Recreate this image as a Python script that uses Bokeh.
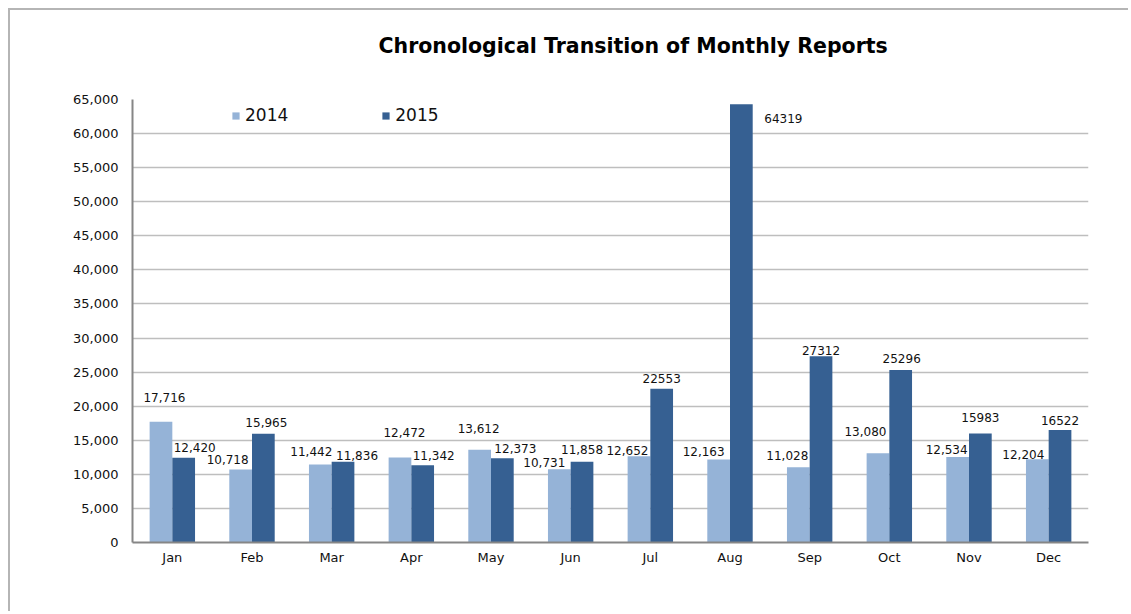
from bokeh.plotting import figure
from bokeh.models import (ColumnDataSource, FactorRange, Range1d, FixedTicker,
                          NumeralTickFormatter, Legend, LegendItem, Title)
from bokeh.transform import dodge
from bokeh.core.properties import value
from bokeh.embed import file_html
from bokeh.resources import INLINE

# ---- data ----
months = ["Jan", "Feb", "Mar", "Apr", "May", "Jun",
          "Jul", "Aug", "Sep", "Oct", "Nov", "Dec"]
v2014 = [17716, 10718, 11442, 12472, 13612, 10731,
         12652, 12163, 11028, 13080, 12534, 12204]
v2015 = [12420, 15965, 11836, 11342, 12373, 11858,
         22553, 64319, 27312, 25296, 15983, 16522]
lab2014 = ["17,716", "10,718", "11,442", "12,472", "13,612", "10,731",
           "12,652", "12,163", "11,028", "13,080", "12,534", "12,204"]
lab2015 = ["12,420", "15,965", "11,836", "11,342", "12,373", "11,858",
           "22553", "64319", "27312", "25296", "15983", "16522"]
y_ticks = list(range(0, 65001, 5000))
title_text = "Chronological Transition of Monthly Reports"

# label placement offsets (screen pixels, styling only)
dx2014 = [3.5, -13, -9, 4.5, -1, -15, -11.5, -15, -11, -12.5, -11, -14]
dy2014 = [-24, -10, -13, -25, -21, -7, -6, -8, -12, -22, -8, -5]
dx2015 = [11, 3, 14, 11, 13, 0, 0, 42, 0, 1, 0, 0]
dy2015 = [-10, -11, -6, -10, -10, -12, -10, 14, -6, -12, -16, -9]

src = ColumnDataSource(dict(month=months, v2014=v2014, v2015=v2015,
                            lab2014=lab2014, lab2015=lab2015,
                            dx2014=dx2014, dy2014=dy2014,
                            dx2015=dx2015, dy2015=dy2015))

LIGHT = "#95B3D7"
DARK = "#366092"
FONT = "DejaVu Sans"

p = figure(x_range=FactorRange(*months), y_range=Range1d(0, 65000),
           width=1120, height=603, output_backend="svg", toolbar_location=None,
           min_border_left=122, min_border_right=42, min_border_top=89,
           min_border_bottom=71, title=None)
p.styles = {"margin-left": "8px", "margin-top": "8px",
            "border-left": "2px solid #b5b5b5", "border-top": "2px solid #b5b5b5"}

bw = 0.285
r1 = p.vbar(x=dodge("month", -bw / 2, range=p.x_range), top="v2014", width=bw,
            source=src, fill_color=LIGHT, line_color=None)
r2 = p.vbar(x=dodge("month", bw / 2, range=p.x_range), top="v2015", width=bw,
            source=src, fill_color=DARK, line_color=None)

p.text(x=dodge("month", -bw / 2, range=p.x_range), y="v2014", text="lab2014",
       x_offset="dx2014", y_offset="dy2014", source=src,
       text_align="center", text_baseline="middle",
       text_font=value(FONT), text_font_size="12px", text_color="#111111")
p.text(x=dodge("month", bw / 2, range=p.x_range), y="v2015", text="lab2015",
       x_offset="dx2015", y_offset="dy2015", source=src,
       text_align="center", text_baseline="middle",
       text_font=value(FONT), text_font_size="12px", text_color="#111111")

# title: a blank spacer panel next to the frame, then the real title above it
p.add_layout(Title(text=" ", text_font_size="1px", standoff=17), "above")
p.add_layout(Title(text=title_text, text_font="DejaVu Sans", text_font_style="bold",
                   text_font_size="20.5px", align="left", offset=246,
                   standoff=43, text_color="#000000"), "above")

# axes
p.yaxis.ticker = FixedTicker(ticks=y_ticks)
p.yaxis.formatter = NumeralTickFormatter(format="0,0")
for ax in (p.xaxis[0], p.yaxis[0]):
    ax.axis_line_color = "#868686"
    ax.axis_line_width = 2
    ax.major_tick_line_color = None
    ax.minor_tick_line_color = None
    ax.major_tick_out = 0
    ax.major_tick_in = 0
    ax.minor_tick_out = 0
    ax.minor_tick_in = 0
    ax.major_label_text_font = FONT
    ax.major_label_text_color = "#111111"
p.yaxis.major_label_text_font_size = "13px"
p.yaxis.major_label_standoff = 14
p.xaxis.major_label_text_font_size = "13px"
p.xaxis.major_label_standoff = 7
p.xaxis.group_text_font_size = "0px"

p.xgrid.grid_line_color = None
p.ygrid.grid_line_color = "#BEBEBE"
p.ygrid.grid_line_width = 1.5
p.outline_line_color = None
p.x_range.range_padding = 0
p.x_range.group_padding = 0
p.x_range.factor_padding = 0

legend = Legend(items=[LegendItem(label="2014", renderers=[r1]),
                       LegendItem(label="2015", renderers=[r2])],
                orientation="horizontal", location=(99, 417),
                spacing=93, glyph_width=9, glyph_height=9, label_standoff=5,
                padding=0, margin=0, background_fill_alpha=0,
                border_line_color=None, label_height=16,
                label_text_font=FONT, label_text_font_size="17px",
                label_text_color="#111111")
p.add_layout(legend)

open("out.html", "w").write(file_html(p, INLINE))
